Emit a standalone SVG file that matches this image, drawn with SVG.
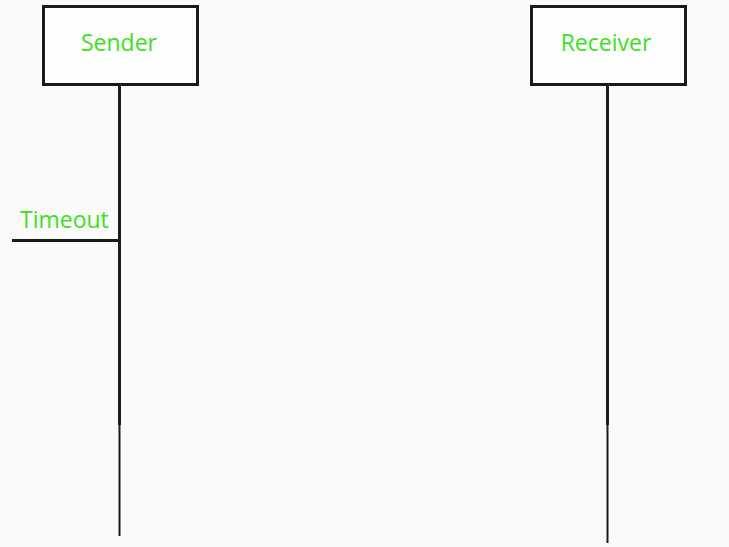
<svg xmlns="http://www.w3.org/2000/svg" width="729" height="547" viewBox="0 0 729 547">
<style>
.box{fill:#fefefe;stroke:#1a1a1a;stroke-width:3}
.lbl{font-family:"Open Sans","Noto Sans",sans-serif;font-size:23px;fill:#3ee01e}
.ln{stroke:#1a1a1a;fill:none}
</style>
<rect width="729" height="547" fill="#fafafa"/>
<g id="connectors">
<line class="ln" x1="119.5" y1="84" x2="119.5" y2="425" stroke-width="3"/>
<line class="ln" x1="119.5" y1="425" x2="119.5" y2="536" stroke-width="2"/>
<line class="ln" x1="607.5" y1="84" x2="607.5" y2="425" stroke-width="3"/>
<line class="ln" x1="607.5" y1="425" x2="607.5" y2="543" stroke-width="2"/>
<line class="ln" x1="12" y1="240.5" x2="120" y2="240.5" stroke-width="3"/>
</g>
<g id="sender">
<rect class="box" x="43.5" y="6.5" width="154" height="78"/>
<text class="lbl" x="119" y="51" text-anchor="middle">Sender</text>
</g>
<g id="receiver">
<rect class="box" x="531.5" y="6.5" width="154" height="78"/>
<text class="lbl" x="606" y="51" text-anchor="middle">Receiver</text>
</g>
<g id="timeout">
<text class="lbl" x="20" y="228">Timeout</text>
</g>
</svg>
